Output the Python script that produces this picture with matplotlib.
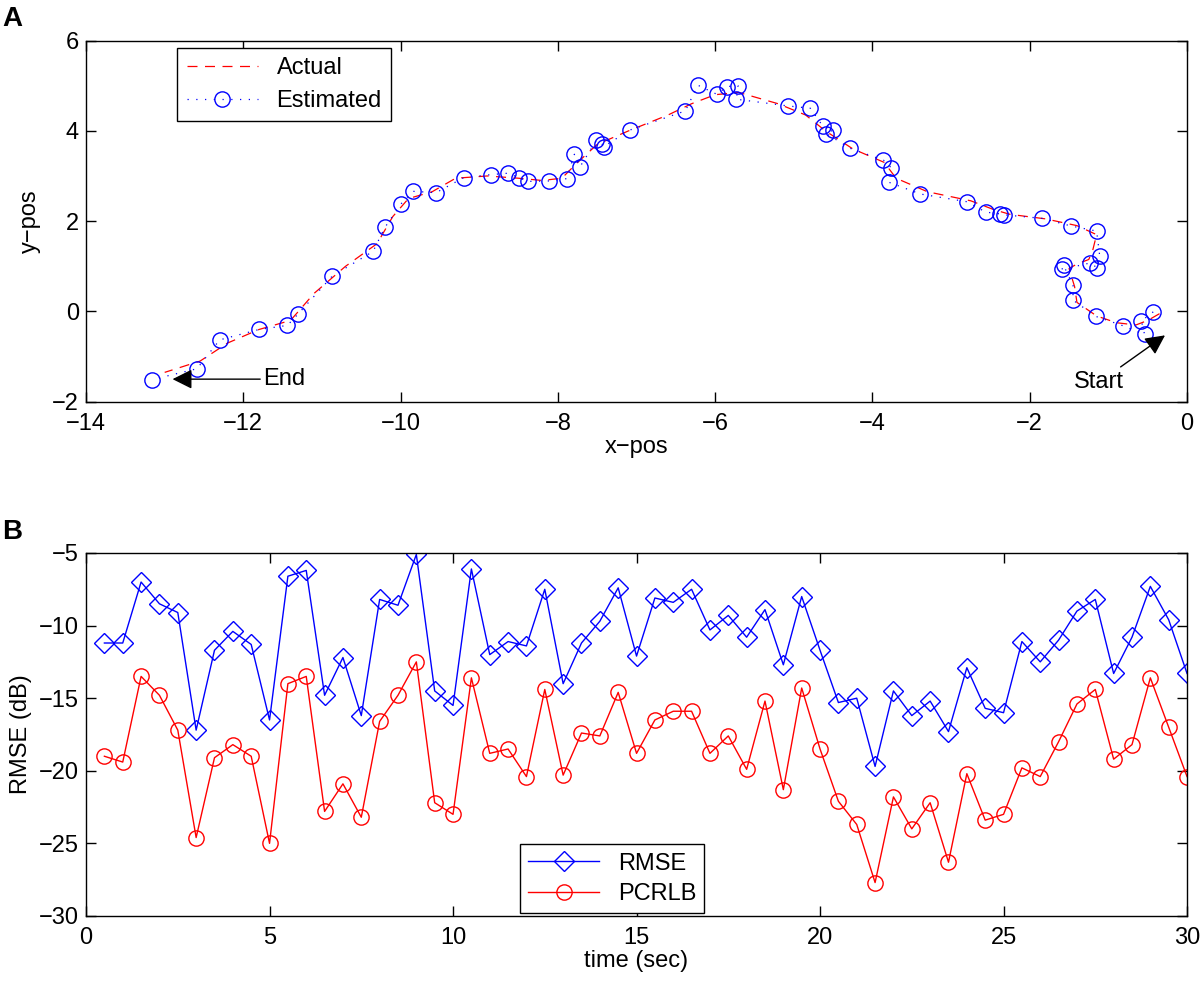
import numpy as np
import matplotlib
matplotlib.use('Agg')
import matplotlib.pyplot as plt

plt.rcParams['font.family'] = ['Liberation Sans', 'DejaVu Sans']

# panel A: estimated track (blue circles), from start to end
est_x = [-0.43, -0.58, -0.54, -0.81, -1.16, -1.45, -1.45, -1.57, -1.59, -1.24,
         -1.14, -1.11, -1.15, -1.47, -1.84, -2.33, -2.38, -2.56, -2.80, -3.39,
         -3.79, -3.76, -3.86, -4.28, -4.59, -4.50, -4.63, -4.79, -5.07, -5.73,
         -5.71, -5.85, -5.98, -6.22, -6.38, -7.08, -7.42, -7.44, -7.51, -7.72,
         -7.79, -7.89, -8.11, -8.38, -8.49, -8.64, -8.85, -9.20, -9.55, -9.84,
         -9.99, -10.20, -10.35, -10.87, -11.30, -11.44, -11.80, -12.30, -12.59, -13.16]
est_y = [-0.01, -0.21, -0.51, -0.32, -0.11, 0.25, 0.58, 1.02, 0.93, 1.07,
         0.97, 1.22, 1.78, 1.89, 2.06, 2.14, 2.16, 2.20, 2.43, 2.60,
         2.86, 3.18, 3.35, 3.61, 3.94, 4.02, 4.10, 4.50, 4.55, 4.70,
         5.00, 4.98, 4.81, 5.01, 4.44, 4.02, 3.65, 3.71, 3.79, 3.20,
         3.48, 2.94, 2.89, 2.88, 2.96, 3.06, 3.03, 2.96, 2.63, 2.66,
         2.39, 1.86, 1.33, 0.78, -0.05, -0.31, -0.40, -0.63, -1.27, -1.51]

# actual track (red dashed)
act_x = [-0.35, -0.50, -0.65, -0.90, -1.15, -1.40, -1.43, -1.50, -1.40, -1.25,
         -1.20, -1.15, -1.40, -1.80, -2.25, -2.45, -2.75, -3.30, -3.70, -3.85,
         -4.25, -4.60, -4.85, -5.20, -5.70, -6.00, -6.30, -6.60, -7.10, -7.50,
         -7.75, -7.95, -8.20, -8.50, -8.90, -9.30, -9.60, -9.90, -10.10, -10.30,
         -10.70, -11.10, -11.40, -11.80, -12.20, -12.55, -13.00]
act_y = [-0.05, -0.20, -0.30, -0.25, -0.10, 0.20, 0.55, 0.95, 1.05, 1.15,
         1.35, 1.70, 1.90, 2.05, 2.15, 2.25, 2.45, 2.65, 2.95, 3.30,
         3.60, 4.00, 4.35, 4.60, 4.85, 4.80, 4.60, 4.35, 4.00, 3.70,
         3.30, 2.95, 2.90, 2.95, 3.00, 2.95, 2.65, 2.50, 2.10, 1.50,
         1.00, 0.40, -0.20, -0.40, -0.70, -1.10, -1.35]

# panel B: error over time
t = np.arange(1, 61) * 0.5
rmse = [-11.2, -11.2, -7.0, -8.5, -9.1, -17.2, -11.7, -10.4, -11.3, -16.5,
        -6.6, -6.2, -14.8, -12.2, -16.2, -8.2, -8.6, -5.1, -14.5, -15.5,
        -6.1, -12.0, -11.1, -11.4, -7.5, -14.0, -11.2, -9.7, -7.4, -12.1,
        -8.1, -8.4, -7.5, -10.3, -9.3, -10.8, -8.9, -12.7, -8.0, -11.7,
        -15.3, -15.0, -19.7, -14.5, -16.2, -15.2, -17.3, -12.9, -15.7, -16.0,
        -11.1, -12.5, -11.0, -9.0, -8.2, -13.3, -10.8, -7.3, -9.6, -13.3]
pcrlb = [-19.0, -19.4, -13.5, -14.8, -17.2, -24.6, -19.1, -18.2, -19.0, -25.0,
         -14.0, -13.5, -22.8, -20.9, -23.2, -16.6, -14.8, -12.5, -22.2, -23.0,
         -13.6, -18.8, -18.5, -20.4, -14.4, -20.3, -17.4, -17.6, -14.6, -18.8,
         -16.5, -15.9, -15.9, -18.8, -17.6, -19.9, -15.2, -21.3, -14.3, -18.5,
         -22.1, -23.7, -27.7, -21.8, -24.0, -22.2, -26.3, -20.2, -23.4, -23.0,
         -19.8, -20.4, -18.0, -15.4, -14.4, -19.2, -18.2, -13.6, -17.0, -20.4]

fs = 17

fig = plt.figure(figsize=(12, 9.81), dpi=100)
ax1 = fig.add_axes([0.0717, 0.5905, 0.9175, 0.3682])
ax2 = fig.add_axes([0.0717, 0.0663, 0.9175, 0.370])

ax1.plot(act_x, act_y, color='red', linestyle=(0, (8, 6)), lw=0.9, label='Actual')
ax1.plot(est_x, est_y, color='blue', linestyle=(0, (1, 6)), lw=0.9, marker='o',
         markersize=11, markerfacecolor='none', markeredgecolor='blue',
         markeredgewidth=1.0, label='Estimated')
ax1.set_xlim(-14, 0)
ax1.set_ylim(-2, 6)
ax1.set_xticks(np.arange(-14, 1, 2))
ax1.set_yticks(np.arange(-2, 7, 2))
ax1.set_xlabel('x\u2212pos', fontsize=fs, labelpad=1)
ax1.set_ylabel('y\u2212pos', fontsize=fs, labelpad=8)
ax1.legend(loc='upper left', bbox_to_anchor=(0.083, 0.98), fontsize=fs,
           fancybox=False, edgecolor='black', framealpha=1, handlelength=3.0,
           borderpad=0.4, labelspacing=0.45, borderaxespad=0)
ax1.annotate('End', xy=(-12.9, -1.5), xytext=(-11.75, -1.5), ha='left', va='center',
             fontsize=fs, arrowprops=dict(arrowstyle='-|>', color='k', lw=1,
                                          mutation_scale=30, shrinkA=0, shrinkB=0))
ax1.annotate('Start', xy=(-0.28, -0.53), xytext=(-1.12, -1.57), ha='center', va='center',
             fontsize=fs, arrowprops=dict(arrowstyle='-|>', color='k', lw=1,
                                          mutation_scale=30, shrinkA=2, shrinkB=0))

ax2.plot(t, rmse, color='blue', lw=1.0, marker='D', markersize=10,
         markerfacecolor='none', markeredgecolor='blue', markeredgewidth=1.0, label='RMSE')
ax2.plot(t, pcrlb, color='red', lw=1.0, marker='o', markersize=11,
         markerfacecolor='none', markeredgecolor='red', markeredgewidth=1.0, label='PCRLB')
ax2.set_xlim(0, 30)
ax2.set_ylim(-30, -5)
ax2.set_xticks(np.arange(0, 31, 5))
ax2.set_yticks(np.arange(-30, -4, 5))
ax2.set_xlabel('time (sec)', fontsize=fs, labelpad=1)
ax2.set_ylabel('RMSE (dB)', fontsize=fs, labelpad=5)
ax2.legend(loc='lower left', bbox_to_anchor=(0.394, 0.008), fontsize=fs,
           fancybox=False, edgecolor='black', framealpha=1, handlelength=3.0,
           borderpad=0.35, labelspacing=0.35, borderaxespad=0)

for ax in (ax1, ax2):
    ax.tick_params(direction='in', length=7, width=1, top=True, right=True, labelsize=fs)
    ax.tick_params(axis='x', pad=8)
    ax.tick_params(axis='y', pad=5)
    for s in ax.spines.values():
        s.set_linewidth(1)

fig.text(0.002, 0.973, 'A', fontsize=20, fontweight='bold')
fig.text(0.002, 0.451, 'B', fontsize=20, fontweight='bold')

fig.savefig('out.png', dpi=100)
